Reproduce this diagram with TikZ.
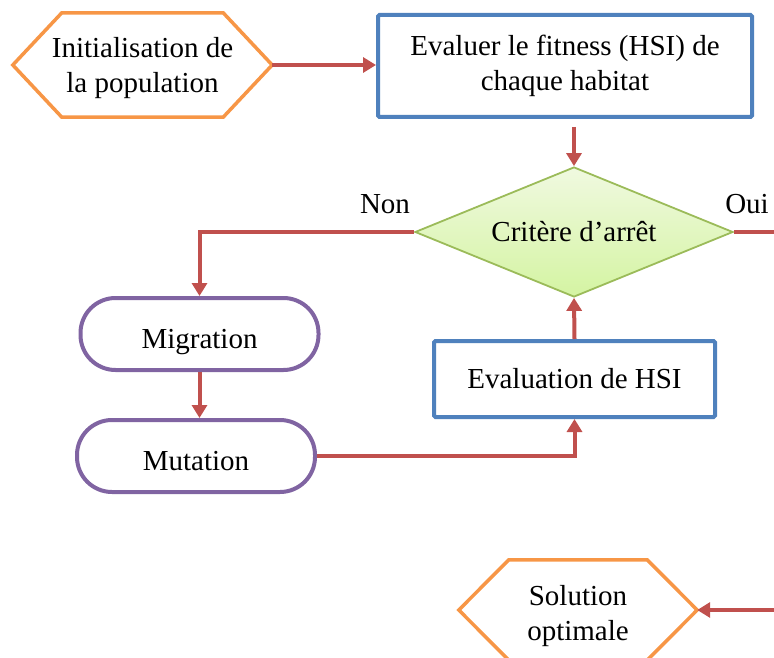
\documentclass[tikz,border=0pt]{standalone}
\usepackage{fontspec}
\setmainfont{Liberation Serif}
\usetikzlibrary{arrows.meta,shapes.geometric,calc}
\definecolor{flowred}{HTML}{C0504D}
\definecolor{hexorange}{HTML}{F79646}
\definecolor{boxblue}{HTML}{4F81BD}
\definecolor{pillpurple}{HTML}{8064A2}
\definecolor{diagreen}{HTML}{9BBB59}
\definecolor{diatop}{HTML}{F0F9E0}
\definecolor{diabot}{HTML}{D4F4A2}
\begin{document}
\begin{tikzpicture}[x=1pt,y=-1pt,
  every node/.style={font=\fontsize{29}{35}\selectfont, text=black, align=center},
  hexbox/.style={minimum width=259pt, minimum height=104pt, inner sep=0pt},
  hexline/.style={draw=hexorange, line width=3.5pt, line join=miter},
  procbox/.style={draw=boxblue, line width=4pt, fill=white, rounded corners=1.5pt, inner sep=0pt},
  pill/.style={draw=pillpurple, line width=4pt, fill=white, rounded corners=35pt,
    minimum width=238pt, minimum height=72pt, inner sep=0pt, text height=31pt, text depth=3pt},
  decision/.style={diamond, draw=diagreen, line width=1.8pt, top color=diatop, bottom color=diabot,
    minimum width=318pt, minimum height=130pt, aspect=2.446, inner sep=0pt},
  flowline/.style={draw=flowred, line width=4pt},
  flowarrow/.style={flowline, -{Triangle[width=15pt,length=13pt]}},
  tag/.style={inner sep=0pt}
]
\clip (0,0) rectangle (774,658);

% start / end terminals (hexagons) with their captions
\node[hexbox] (init) at (142.5,65) {};
\draw[hexline] (init.west) -- ([xshift=49pt]init.north west) -- ([xshift=-49pt]init.north east)
  -- (init.east) -- ([xshift=-49pt]init.south east) -- ([xshift=49pt]init.south west) -- cycle;
\node[tag] (initText) at ([yshift=-3.5pt]init.center) {Initialisation de\\la population};

\node[hexbox, minimum width=238pt, minimum height=100pt] (sol) at (578,610) {};
\draw[hexline] (sol.west) -- ([xshift=50pt]sol.north west) -- ([xshift=-50pt]sol.north east)
  -- (sol.east) -- ([xshift=-50pt]sol.south east) -- ([xshift=50pt]sol.south west) -- cycle;
\node[tag] (solText) at ([yshift=-6pt]sol.center) {Solution\\optimale};

% process steps
\node[procbox, minimum width=374pt, minimum height=102pt] (fit) at (565,66)
  {Evaluer le fitness (HSI) de\\chaque habitat};
\node[decision] (crit) at (574,232) {Critère d’arrêt};
\node[tag] (non) at (385,204) {Non};
\node[tag] (oui) at (747,204) {Oui};
\node[pill] (mig) at (199.5,334) {Migration};
\node[pill] (mut) at (196,456) {Mutation};
\node[procbox, minimum width=281pt, minimum height=76pt] (eval) at (574.5,379) {Evaluation de HSI};

% free ends leaving the frame on the right
\coordinate (ouiEnd) at (780,232);
\coordinate (solIn) at (780,610);

% connectors
\draw[flowarrow] (init.east) -- (init.east -| fit.west);
\draw[flowarrow] ([yshift=-8pt]fit.south -| crit.north) -- (crit.north);
\draw[flowarrow] (crit.west) -| (mig.north);
\draw[flowline] (crit.east) -- (ouiEnd);
\draw[flowarrow] (mig.south) -- (mig.south |- mut.north);
\draw[flowarrow] (mut.east) -| (eval.south);
\draw[flowarrow] (eval.north) -- (crit.south);
\draw[flowarrow] (solIn) -- (sol.east);
\end{tikzpicture}
\end{document}
